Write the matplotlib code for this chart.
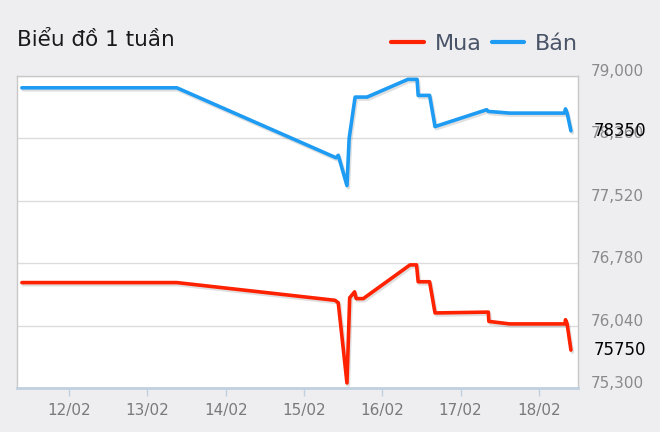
import matplotlib
matplotlib.use("Agg")
import matplotlib.pyplot as plt
import matplotlib.dates as mdates
import matplotlib.patheffects as pe
import matplotlib.transforms as mtransforms
import pandas as pd

TITLE = "Biểu đồ 1 tuần"
SERIES_NAMES = ["Mua", "Bán"]

# Bán (sell) price
ban_time = ["11/02 09:30", "13/02 09:00", "15/02 09:50", "15/02 10:30", "15/02 13:10",
            "15/02 13:50", "15/02 15:40", "15/02 19:20", "16/02 07:50", "16/02 10:40",
            "16/02 11:00", "16/02 14:30", "16/02 16:10", "17/02 08:00", "17/02 08:30",
            "17/02 15:00", "18/02 07:50", "18/02 08:10", "18/02 08:40", "18/02 09:50"]
ban_value = [78860, 78860, 78030, 78060, 77700,
             78260, 78750, 78750, 78960, 78960,
             78770, 78770, 78400, 78600, 78580,
             78560, 78560, 78610, 78560, 78350]

# Mua (buy) price
mua_time = ["11/02 09:30", "13/02 09:00", "15/02 09:30", "15/02 10:30", "15/02 13:10",
            "15/02 14:00", "15/02 15:30", "15/02 16:00", "15/02 18:10", "16/02 08:30",
            "16/02 10:30", "16/02 11:00", "16/02 14:30", "16/02 16:10", "17/02 08:30",
            "17/02 08:40", "17/02 15:00", "18/02 08:00", "18/02 08:10", "18/02 08:40",
            "18/02 09:50"]
mua_value = [76550, 76550, 76340, 76310, 75360,
             76370, 76440, 76360, 76360, 76760,
             76760, 76560, 76560, 76190, 76200,
             76090, 76060, 76060, 76110, 76060,
             75750]

y_ticks = [75300, 76040, 76780, 77520, 78260, 79000]
x_range = ["11/02 08:00", "18/02 12:00"]

RED = "#FF2200"
BLUE = "#1E9BF2"
BG = "#EEEDF0"

def parse(t):
    return pd.to_datetime(t, format="%d/%m %H:%M").to_pydatetime()

fig = plt.figure(figsize=(6.6, 4.32), dpi=100, facecolor=BG)
ax = fig.add_axes([17 / 660, 1 - 388 / 432, 561 / 660, 312 / 432])
ax.set_facecolor("white")

shadow = [pe.SimpleLineShadow(offset=(1, -1.5), shadow_color="black", alpha=0.12),
          pe.Normal()]
l_mua, = ax.plot(parse(mua_time), mua_value, color=RED, lw=2.6,
                 solid_joinstyle="round", solid_capstyle="round",
                 path_effects=shadow, zorder=3, label=SERIES_NAMES[0])
l_ban, = ax.plot(parse(ban_time), ban_value, color=BLUE, lw=2.6,
                 solid_joinstyle="round", solid_capstyle="round",
                 path_effects=shadow, zorder=3, label=SERIES_NAMES[1])

xr = parse(x_range)
ax.set_xlim(xr[0], xr[1])
ax.set_ylim(y_ticks[0], y_ticks[-1])

# y axis on the right, labels sitting a bit above gridlines
ax.yaxis.tick_right()
ax.set_yticks(y_ticks)
ax.set_yticklabels([f"{v:,}" for v in y_ticks])
ax.tick_params(axis="y", length=0, pad=9.5, labelsize=11, labelcolor="#8A8A8A")
lift = mtransforms.ScaledTranslation(0, 0.06, fig.dpi_scale_trans)
for lbl in ax.get_yticklabels():
    lbl.set_transform(lbl.get_transform() + lift)
ax.grid(axis="y", color="#DCDCDC", lw=1)
ax.set_axisbelow(True)

ax.xaxis.set_major_locator(mdates.DayLocator())
ax.xaxis.set_major_formatter(mdates.DateFormatter("%d/%m"))
ax.tick_params(axis="x", length=6, width=1, color="#C0D0E0", pad=5,
               labelsize=11, labelcolor="#7A7A7A")

for side in ["left", "top", "right"]:
    ax.spines[side].set_color("#C8C8C8")
    ax.spines[side].set_linewidth(1)
ax.spines["bottom"].set_color("#C0D0E0")
ax.spines["bottom"].set_linewidth(2)

# last values next to the axis
for vals in [ban_value, mua_value]:
    ax.annotate(f"{vals[-1]}", xy=(1, vals[-1]), xycoords=("axes fraction", "data"),
                xytext=(11, 0), textcoords="offset points", va="center", ha="left",
                fontsize=12, color="black", annotation_clip=False)

fig.text(17 / 660, 1 - 46 / 432, TITLE, fontsize=15.5, color="#1A1A1A", va="baseline")

leg = fig.legend(handles=[l_mua, l_ban], loc="center right",
                 bbox_to_anchor=(578 / 660, 1 - 44 / 432), ncol=2, frameon=False,
                 fontsize=16, handlelength=1.45, handletextpad=0.5,
                 columnspacing=0.45, borderpad=0, borderaxespad=0)
for t in leg.get_texts():
    t.set_color("#4A5468")
for h in leg.legend_handles:
    h.set_path_effects([])
    h.set_linewidth(3)

fig.savefig("out.png", dpi=100, facecolor=BG)
